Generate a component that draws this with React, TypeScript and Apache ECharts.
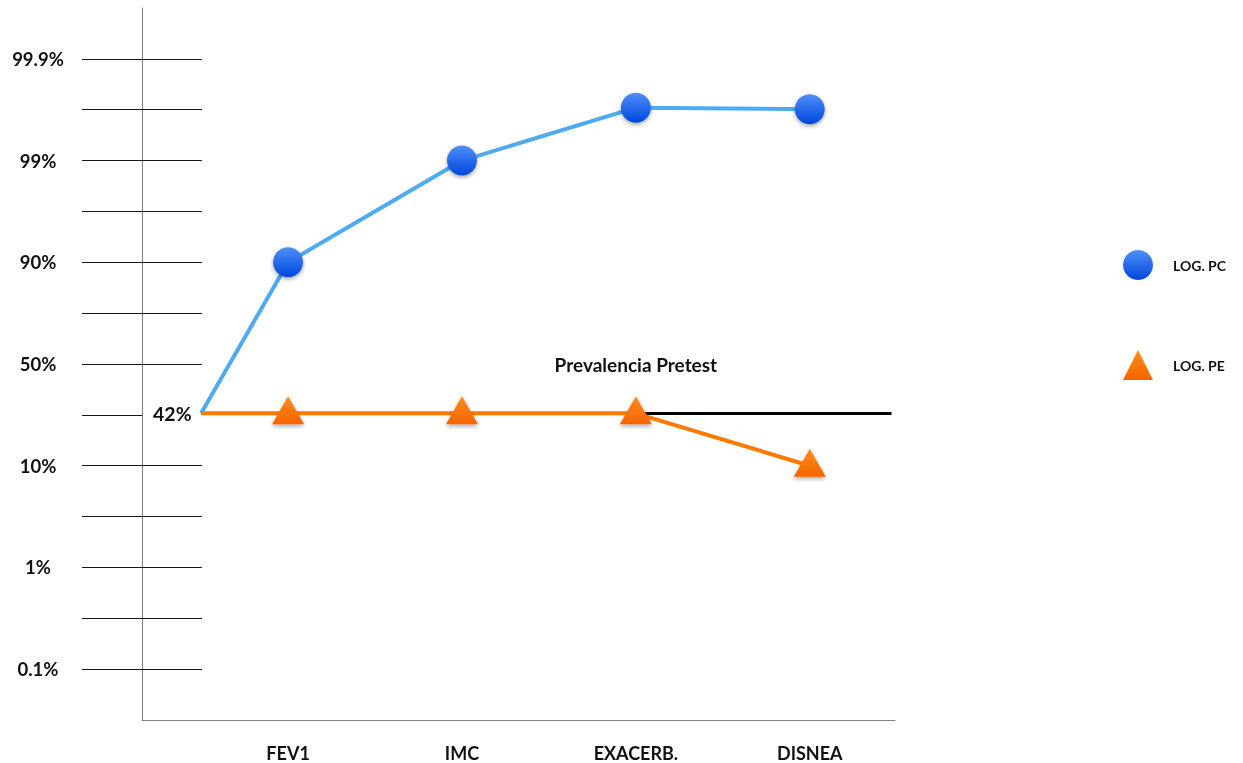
import React, { useEffect, useRef } from "react";
import * as echarts from "echarts";

const categories = ["FEV1", "IMC", "EXACERB.", "DISNEA"];
const categoryPos = [1, 2, 3, 4];
const xPos = [0.5, 1, 2, 3, 4];
const pcValues = [5.03, 8, 10, 11.04, 11.01];
const peValues = [5.03, 5.03, 5.03, 5.03, 4];
const yTickPos = [0, 1, 2, 3, 4, 5, 6, 7, 8, 9, 10, 11, 12];
const yInnerTickPos = [0, 1, 2, 3, 4, 6, 7, 8, 9, 10, 11, 12];
const yLabelPos = [0, 2, 4, 6, 8, 10, 12];
const yLabels = ["0.1%", "1%", "10%", "50%", "90%", "99%", "99.9%"];
const pretestValue = 5.03;
const pretestLabel = "42%";
const pretestTitle = "Prevalencia Pretest";
const seriesNames = ["LOG. PC", "LOG. PE"];

const FONT = "Lato, 'Open Sans', sans-serif";

export default function App() {
  const ref = useRef<HTMLDivElement>(null);
  useEffect(() => {
    if (!ref.current) return;
    const chart = echarts.init(ref.current, null, { renderer: "svg" });
    const blueGrad = new echarts.graphic.LinearGradient(0, 0, 0, 1, [
      { offset: 0, color: "#4f8ff8" },
      { offset: 1, color: "#0046de" },
    ]);
    const orangeGrad = new echarts.graphic.LinearGradient(0, 0, 0, 1, [
      { offset: 0, color: "#ff8c1c" },
      { offset: 1, color: "#f56400" },
    ]);
    const shadow = {
      shadowBlur: 4,
      shadowOffsetY: 2,
      shadowColor: "rgba(0,0,0,0.35)",
    };
    const boldLabel = {
      fontFamily: FONT,
      fontWeight: 700,
      color: "#111",
    };
    chart.setOption({
      animation: false,
      textStyle: { fontFamily: FONT },
      grid: { left: 142, right: 348, top: 8, bottom: 43 },
      legend: {
        orient: "vertical",
        left: 1118,
        top: 245,
        itemWidth: 30,
        itemHeight: 30,
        itemGap: 70,
        data: [
          { name: seriesNames[0], icon: "circle" },
          { name: seriesNames[1], icon: "triangle" },
        ],
        textStyle: {
          ...boldLabel,
          fontSize: 14,
          padding: [0, 0, 0, 15],
        },
      },
      xAxis: {
        type: "value",
        min: 0.16,
        max: 4.49,
        splitLine: { show: false },
        axisLine: {
          show: true,
          onZero: false,
          lineStyle: { color: "#808080", width: 1 },
        },
        axisTick: { show: false },
        axisLabel: {
          customValues: categoryPos,
          formatter: (v: number) => {
            const i = categoryPos.indexOf(Math.round(v));
            return i >= 0 ? categories[i] : "";
          },
          margin: 24,
          ...boldLabel,
          fontSize: 18,
        },
      },
      yAxis: [
        {
          type: "value",
          min: -1,
          max: 13,
          interval: 1,
          splitLine: { show: false },
          axisLine: {
            show: true,
            onZero: false,
            lineStyle: { color: "#808080", width: 1 },
          },
          axisTick: {
            show: true,
            length: 60,
            customValues: yTickPos,
            lineStyle: { color: "#1a1a1a", width: 1 },
          },
          axisLabel: {
            customValues: yLabelPos,
            formatter: (v: number) => {
              const i = yLabelPos.indexOf(Math.round(v));
              return i >= 0 ? yLabels[i] : "";
            },
            align: "center",
            margin: 104,
            ...boldLabel,
            fontSize: 18.5,
          },
        },
        {
          type: "value",
          min: -1,
          max: 13,
          interval: 1,
          position: "left",
          splitLine: { show: false },
          axisLine: { show: false, onZero: false },
          axisTick: {
            show: true,
            inside: true,
            length: 60,
            customValues: yInnerTickPos,
            lineStyle: { color: "#1a1a1a", width: 1 },
          },
          axisLabel: { show: false },
        },
      ],
      series: [
        {
          name: "pretest",
          type: "line",
          data: [],
          z: 1,
          markLine: {
            silent: true,
            symbol: "none",
            lineStyle: { color: "#000", width: 3, type: "solid" },
            label: { show: false },
            data: [
              [
                { coord: [xPos[0], pretestValue] },
                { coord: [4.47, pretestValue] },
              ],
            ],
          },
          markPoint: {
            symbol: "circle",
            symbolSize: 1,
            itemStyle: { color: "rgba(0,0,0,0)" },
            data: [
              {
                coord: [3, 6],
                label: {
                  show: true,
                  position: "inside",
                  formatter: pretestTitle,
                  ...boldLabel,
                  fontSize: 19,
                },
              },
              {
                coord: [xPos[0], pretestValue],
                label: {
                  show: true,
                  position: "left",
                  distance: 9,
                  formatter: pretestLabel,
                  ...boldLabel,
                  fontSize: 19.5,
                },
              },
            ],
          },
        },
        {
          name: seriesNames[0],
          type: "line",
          z: 9,
          data: xPos.map((x, i) =>
            i === 0
              ? { value: [x, pcValues[i]], symbol: "none" }
              : { value: [x, pcValues[i]] }
          ),
          symbol: "circle",
          symbolSize: 30,
          lineStyle: { color: "#4eabf0", width: 4 },
          itemStyle: { color: blueGrad, ...shadow },
        },
        {
          name: seriesNames[1],
          type: "line",
          z: 10,
          data: xPos.map((x, i) =>
            i === 0
              ? { value: [x, peValues[i]], symbol: "none" }
              : { value: [x, peValues[i]] }
          ),
          symbol: "triangle",
          symbolSize: [32, 28],
          symbolOffset: [0, -3],
          lineStyle: { color: "#ff7a00", width: 4 },
          itemStyle: { color: orangeGrad, ...shadow },
        },
      ],
    });
    return () => chart.dispose();
  }, []);
  return (
    <div
      ref={ref}
      style={{ position: "fixed", left: 0, top: 0, width: 1243, height: 763 }}
    />
  );
}
